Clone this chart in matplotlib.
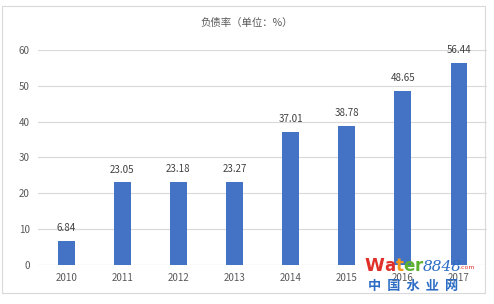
import matplotlib.pyplot as plt
import matplotlib.patches as mpatches

plt.rcParams['font.family'] = ['Noto Sans CJK SC', 'DejaVu Sans']

# data
years = ['2010', '2011', '2012', '2013', '2014', '2015', '2016', '2017']
debt_ratio = [6.84, 23.05, 23.18, 23.27, 37.01, 38.78, 48.65, 56.44]
title = '负债率（单位：%）'

bar_color = '#4472C4'
text_color = '#595959'
grid_color = '#D9D9D9'

fig = plt.figure(figsize=(4.94, 3.04), dpi=100)
ax = fig.add_axes([0.077, 0.128, 0.909, 0.708])

x = range(len(years))
bars = ax.bar(x, debt_ratio, width=0.30, color=bar_color, zorder=3)
for b, v in zip(bars, debt_ratio):
    ax.text(b.get_x() + b.get_width() / 2, v + 2.2, '{:.2f}'.format(v),
            ha='center', va='bottom', fontsize=7, color='#404040')

ax.set_xlim(-0.5, len(years) - 0.5)
ax.set_ylim(0, 60)
ax.set_yticks(range(0, 61, 10))
ax.set_xticks(list(x))
ax.set_xticklabels(years)
ax.tick_params(length=0, labelsize=7, labelcolor=text_color, pad=6)
ax.grid(axis='y', color=grid_color, linewidth=0.8, zorder=0)
for s in ax.spines.values():
    s.set_visible(False)
ax.axhline(0, color=grid_color, linewidth=0.8, zorder=1)

fig.text(0.5, 0.925, title, ha='center', va='center', fontsize=7.5, color=text_color)

# light frame around the chart
fig.patches.append(mpatches.Rectangle((0.004, 0.035), 0.978, 0.945, transform=fig.transFigure,
                                      fill=False, edgecolor='#D9D9D9', linewidth=0.8))

# watermark, letters placed one after another using measured widths
renderer = fig.canvas.get_renderer()
wm = [('W', '#E0302A', 13, 'bold', 'normal', 'DejaVu Sans'),
      ('a', '#E0302A', 12, 'bold', 'normal', 'DejaVu Sans'),
      ('t', '#F39A1E', 12, 'bold', 'normal', 'DejaVu Sans'),
      ('e', '#5DB12F', 12, 'bold', 'normal', 'DejaVu Sans'),
      ('r', '#5DB12F', 12, 'bold', 'normal', 'DejaVu Sans'),
      ('8848', '#2B6CC4', 11, 'normal', 'italic', 'DejaVu Serif')]
xpos = 0.738
for ch, c, fs, fw, st, fam in wm:
    t = fig.text(xpos, 0.11, ch, fontsize=fs, fontweight=fw, style=st, color=c, family=fam)
    xpos += t.get_window_extent(renderer).width / fig.bbox.width
fig.text(xpos - 0.005, 0.115, '.com', fontsize=4.5, color='#E0302A', family='DejaVu Sans')
fig.text(0.745, 0.045, '中  国  水  业  网', fontsize=9.5, fontweight='bold', color='#2B6CC4')

fig.savefig('out.png', dpi=100)
